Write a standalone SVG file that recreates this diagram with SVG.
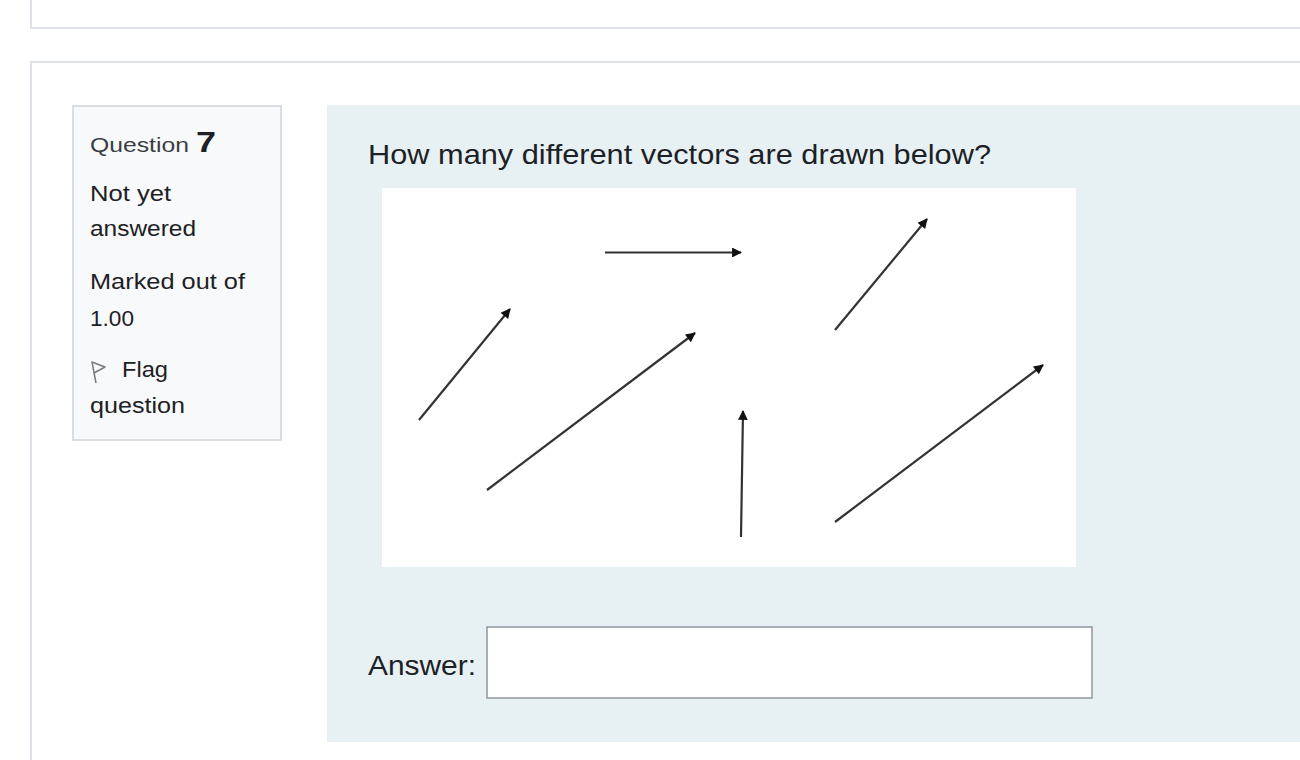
<svg xmlns="http://www.w3.org/2000/svg" width="1300" height="760" viewBox="0 0 1300 760">
<defs>
<style>
.t{font-family:"Liberation Sans",Arial,sans-serif;fill:#1d2125}
.info{font-size:22px}
.vec{stroke:#333333;stroke-width:2.2;fill:none;marker-end:url(#ah)}
</style>
<marker id="ah" viewBox="0 0 10 10" refX="9" refY="5" markerWidth="5.5" markerHeight="4.5" markerUnits="strokeWidth" orient="auto">
<path d="M0,0 L10,5 L0,10 z" fill="#111"/>
</marker>
</defs>
<rect width="1300" height="760" fill="#ffffff"/>
<g id="frame-top">
<path d="M31,0 V28 H1300" fill="none" stroke="#dee2e6" stroke-width="2"/>
</g>
<g id="frame-main">
<path d="M31,760 V62 H1300" fill="none" stroke="#dee2e6" stroke-width="2"/>
</g>
<g id="info">
<rect x="73" y="106" width="208" height="334" fill="#f8f9fa" stroke="#ced4da" stroke-width="1.5"/>
<text class="t" x="90" y="152" font-size="21" textLength="99" lengthAdjust="spacingAndGlyphs" style="fill:#3a3f44">Question</text>
<text class="t" x="196" y="152" font-size="29" font-weight="bold" textLength="20" lengthAdjust="spacingAndGlyphs">7</text>
<text class="t info" x="90" y="201" textLength="81" lengthAdjust="spacingAndGlyphs">Not yet</text>
<text class="t info" x="90" y="236" textLength="106" lengthAdjust="spacingAndGlyphs">answered</text>
<text class="t info" x="90" y="289" textLength="155" lengthAdjust="spacingAndGlyphs">Marked out of</text>
<text class="t info" x="90" y="326" textLength="44" lengthAdjust="spacingAndGlyphs">1.00</text>
<path d="M96,383 L92,362 L105,367 L94,373" fill="none" stroke="#7a7a7a" stroke-width="1.5" stroke-linejoin="round"/>
<text class="t info" x="122" y="377" textLength="46" lengthAdjust="spacingAndGlyphs">Flag</text>
<text class="t info" x="90" y="413" textLength="95" lengthAdjust="spacingAndGlyphs">question</text>
</g>
<g id="content">
<rect x="327" y="105" width="973" height="637" fill="#e7f1f4"/>
<text class="t" x="368" y="164" font-size="28" textLength="623" lengthAdjust="spacingAndGlyphs">How many different vectors are drawn below?</text>
<rect x="382" y="188" width="694" height="379" fill="#ffffff"/>
<text class="t" x="368" y="675" font-size="28" textLength="108" lengthAdjust="spacingAndGlyphs">Answer:</text>
<rect x="487" y="627" width="605" height="71" fill="#ffffff" stroke="#8f959e" stroke-width="1.5"/>
</g>
<g id="vectors">
<line class="vec" x1="605" y1="252.5" x2="741" y2="252.5"/>
<line class="vec" x1="419" y1="420" x2="510" y2="309"/>
<line class="vec" x1="487" y1="490" x2="695" y2="333"/>
<line class="vec" x1="835" y1="330" x2="927" y2="219"/>
<line class="vec" x1="741" y1="537" x2="743" y2="411"/>
<line class="vec" x1="835" y1="522" x2="1043" y2="365"/>
</g>
</svg>
